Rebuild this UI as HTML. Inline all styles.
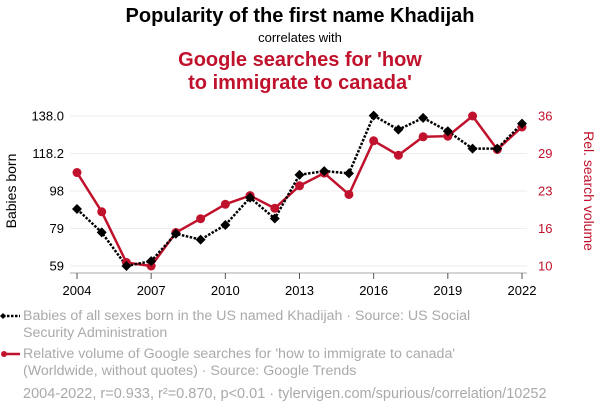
<!DOCTYPE html>
<html><head><meta charset="utf-8"><style>
body{margin:0;width:600px;height:414px;background:#fff;font-family:"Liberation Sans",sans-serif;overflow:hidden}
svg{position:absolute;left:0;top:0}
</style></head><body>
<svg width="600" height="414" id="chart">
<text x="300" y="22" text-anchor="middle" font-size="20" font-weight="bold" fill="#000">Popularity of the first name Khadijah</text>
<text x="300" y="42" text-anchor="middle" font-size="13" fill="#000">correlates with</text>
<text x="300" y="66" text-anchor="middle" font-size="20" font-weight="bold" fill="#c0122c">Google searches for 'how</text>
<text x="300" y="89" text-anchor="middle" font-size="20" font-weight="bold" fill="#c0122c">to immigrate to canada'</text>
<g id="grid"></g><g id="axes"></g><g id="series"></g>
<text transform="translate(16,191) rotate(-90)" text-anchor="middle" font-size="14" fill="#000">Babies born</text>
<text transform="translate(584,191) rotate(90)" text-anchor="middle" font-size="14" fill="#c0122c">Rel. search volume</text>
<g>
<line x1="3" y1="316" x2="20" y2="316" stroke="#000" stroke-width="2.5" stroke-dasharray="2.5,1.5"/>
<path d="M3,313 L6,316 L3,319 L0,316Z" fill="#000"/>
<text x="23" y="320" font-size="14.2" fill="#aaa">Babies of all sexes born in the US named Khadijah · Source: US Social</text>
<text x="23" y="337" font-size="14.2" fill="#aaa">Security Administration</text></g>
<g>
<line x1="3" y1="354" x2="20" y2="354" stroke="#c0122c" stroke-width="2.5"/>
<circle cx="4" cy="354" r="3" fill="#c0122c"/>
<text x="23" y="358" font-size="14.2" fill="#aaa">Relative volume of Google searches for 'how to immigrate to canada'</text>
<text x="23" y="375" font-size="14.2" fill="#aaa">(Worldwide, without quotes) · Source: Google Trends</text></g>
<text x="23" y="398" font-size="14.5" fill="#aaa">2004-2022, r=0.933, r²=0.870, p&lt;0.01 · tylervigen.com/spurious/correlation/10252</text>
</svg>
<script>
const years=[2004,2005,2006,2007,2008,2009,2010,2011,2012,2013,2014,2015,2016,2017,2018,2019,2020,2021,2022];
const babies=[89,76.7,59,61.6,76,72.9,80.6,95,84,107,109,107.8,138.2,130.8,137,130,120.8,120.8,134];
const searches=[26.2,19.4,10.6,10,15.8,18.2,20.7,22.2,20,23.9,26.1,22.4,31.7,29.2,32.4,32.5,36,30.2,34.1];
const leftTicks=["138.0","118.2","98","79","59"];
const rightTicks=["36","29","23","16","10"];
const xTicks=[2004,2007,2010,2013,2016,2019,2022];
const NS="http://www.w3.org/2000/svg";
const x=y=>77+(y-2004)*(522-77)/18;
const yL=v=>266-(v-59)*150/79;
const yR=v=>266-(v-10)*150/26;
function mk(t,a,p){const e=document.createElementNS(NS,t);for(const k in a)e.setAttribute(k,a[k]);p.appendChild(e);return e;}
const grid=document.getElementById('grid'),axes=document.getElementById('axes'),ser=document.getElementById('series');
leftTicks.forEach((t,i)=>{const yy=116+i*37.5;
const g=mk('line',{x1:70,x2:527,y1:yy,y2:yy,stroke:'#eee'},grid);


const l=mk('text',{x:64,y:yy+4.5,'text-anchor':'end','font-size':13,fill:'#000'},axes);l.textContent=t;


const r=mk('text',{x:538,y:yy+4.5,'font-size':13,fill:'#c0122c'},axes);r.textContent=rightTicks[i];

});
mk('line',{x1:70,x2:527,y1:273,y2:273,stroke:'#aaa'},axes);
xTicks.forEach(t=>{mk('line',{x1:x(t),x2:x(t),y1:273,y2:279,stroke:'#555'},axes);
const l=mk('text',{x:x(t),y:295,'text-anchor':'middle','font-size':13,fill:'#000'},axes);l.textContent=t;

});
const rl=mk('polyline',{points:years.map((y,i)=>x(y)+','+yR(searches[i])).join(' '),fill:'none',stroke:'#c0122c','stroke-width':2.5},ser);


const bl=mk('polyline',{points:years.map((y,i)=>x(y)+','+yL(babies[i])).join(' '),fill:'none',stroke:'#000','stroke-width':2.5,'stroke-dasharray':'2.5,1.5'},ser);


years.forEach((y,i)=>{const c=mk('circle',{cx:x(y),cy:yR(searches[i]),r:4.5,fill:'#c0122c'},ser);


const px=x(y),py=yL(babies[i]);
const d=mk('path',{d:`M${px},${py-5}L${px+5},${py}L${px},${py+5}L${px-5},${py}Z`,fill:'#000'},ser);

});
</script>
</body></html>
